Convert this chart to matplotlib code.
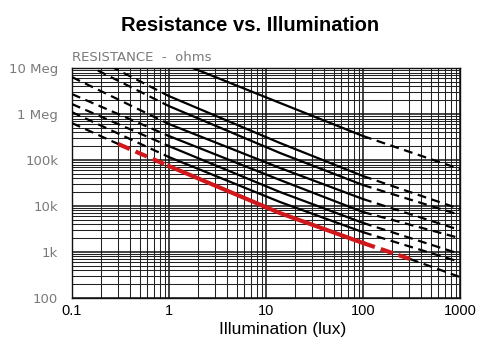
import matplotlib
matplotlib.use("Agg")
import matplotlib.pyplot as plt
from matplotlib.ticker import LogLocator, NullFormatter, FixedLocator
import numpy as np

# ---- data (lux, ohms) ----
lux5 = [0.1, 1, 14, 100, 1000]
line_a = [29.3e6, 2.46e6, 234e3, 44.9e3, 8.6e3]
line_b = [16.9e6, 1.49e6, 142e3, 28.6e3, 6.4e3]
line_c = [6.37e6, 607e3, 67e3, 14.2e3, 3.0e3]
line_d = [2.72e6, 333e3, 36.7e3, 7.4e3, 2.0e3]
line_e = [1.65e6, 201e3, 20.1e3, 4.3e3, 906]
line_f = [1.10e6, 116e3, 12.2e3, 2.7e3, 607]

top_lux = [1, 14, 100, 1000]
top_res = [16.2e6, 1.74e6, 333e3, 63.7e3]

red_lux = [0.1, 0.3, 1, 14, 100, 305, 1000]
red_res = [637e3, 223e3, 74e3, 7.0e3, 1.57e3, 705, 286]

x_ticks = [0.1, 1, 10, 100, 1000]
x_labels = ["0.1", "1", "10", "100", "1000"]
y_ticks = [100, 1e3, 1e4, 1e5, 1e6, 1e7]
y_labels = ["100", "1k", "10k", "100k", "1 Meg", "10 Meg"]

fig = plt.figure(figsize=(5.0, 3.51), dpi=100)
ax = fig.add_axes([0.144, 0.151, 0.776, 0.655])
ax.set_xscale("log")
ax.set_yscale("log")
ax.set_xlim(0.1, 1000)
ax.set_ylim(100, 1e7)

# grid
ax.xaxis.set_minor_locator(LogLocator(base=10, subs=np.arange(2, 10)))
ax.yaxis.set_minor_locator(LogLocator(base=10, subs=np.arange(2, 10)))
ax.xaxis.set_minor_formatter(NullFormatter())
ax.yaxis.set_minor_formatter(NullFormatter())
ax.grid(which="major", color="#111111", lw=1.1)
ax.grid(which="minor", color="#222222", lw=0.75)
ax.set_axisbelow(True)
ax.tick_params(which="both", length=0)
for s in ax.spines.values():
    s.set_color("#111111")
    s.set_linewidth(1.0)

ax.xaxis.set_major_locator(FixedLocator(x_ticks))
ax.set_xticklabels(x_labels, fontsize=10.5, family=["Liberation Sans", "DejaVu Sans"])
ax.yaxis.set_major_locator(FixedLocator(y_ticks))
ax.set_yticklabels(y_labels, fontsize=9.5, color="#7a7a7a", family=["DejaVu Sans"])
ax.tick_params(axis="x", pad=4)
ax.tick_params(axis="y", pad=10)

LW = 1.6
DASH = (4, 2.5)

def draw_line(xs, ys):
    # dashed below 1 lux, solid 1-100 lux, dashed above 100
    ax.plot(xs[:2], ys[:2], color="black", lw=LW, dashes=DASH, zorder=3)
    ax.plot(xs[1:4], ys[1:4], color="black", lw=LW, zorder=3)
    ax.plot(xs[3:], ys[3:], color="black", lw=LW, dashes=DASH, zorder=3)

for ys in [line_a, line_b, line_c, line_d, line_e, line_f]:
    draw_line(lux5, ys)

# top line: solid until 100 lux, then dashed
ax.plot(top_lux[:3], top_res[:3], color="black", lw=LW, zorder=3)
ax.plot(top_lux[2:], top_res[2:], color="black", lw=LW, dashes=DASH, zorder=3)

# highlighted line
ax.plot(red_lux[:2], red_res[:2], color="black", lw=LW, dashes=DASH, zorder=3)
ax.plot(red_lux[1:3], red_res[1:3], color="#d0181c", lw=3.0, dashes=(3, 1.5), zorder=4)
ax.plot(red_lux[2:5], red_res[2:5], color="#d0181c", lw=3.0, zorder=4)
ax.plot(red_lux[4:6], red_res[4:6], color="#d0181c", lw=3.0, dashes=(3, 1.5), zorder=4)
ax.plot(red_lux[5:], red_res[5:], color="black", lw=LW, dashes=DASH, zorder=3)

fig.text(0.5, 0.926, "Resistance vs. Illumination", ha="center", va="center",
         fontsize=14.5, fontweight="bold",
         family=["Liberation Sans Narrow", "Liberation Sans", "DejaVu Sans"])
fig.text(0.144, 0.835, "RESISTANCE  -  ohms", ha="left", va="center",
         fontsize=9.5, color="#7a7a7a", family=["DejaVu Sans"])
fig.text(0.566, 0.062, "Illumination (lux)", ha="center", va="center",
         fontsize=12.5, family=["Liberation Sans", "DejaVu Sans"])

fig.savefig("out.png", dpi=100)
